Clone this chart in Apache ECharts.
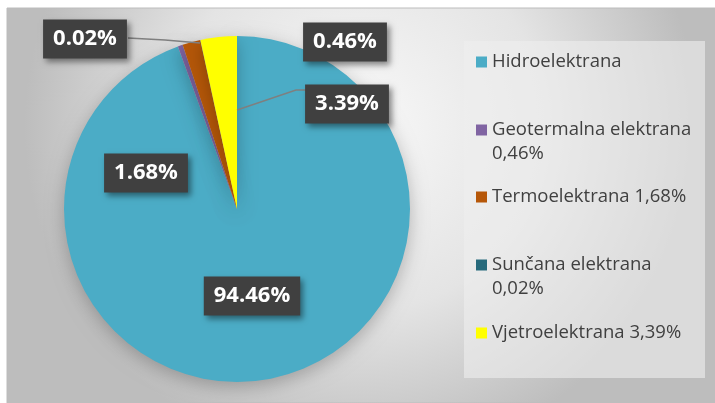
<!DOCTYPE html>
<html>
<head>
<meta charset="utf-8">
<script src="https://cdn.jsdelivr.net/npm/echarts@6/dist/echarts.min.js"></script>
<style>
html,body{margin:0;padding:0;background:#fff;}
#chart{width:715px;height:403px;}
</style>
</head>
<body>
<div id="chart"></div>
<script>
// ---- data ----
var categories = [
  'Hidroelektrana',
  'Geotermalna elektrana 0,46%',
  'Termoelektrana 1,68%',
  'Sunčana elektrana 0,02%',
  'Vjetroelektrana 3,39%'
];
var shares = [94.46, 0.46, 1.68, 0.02, 3.39];

// ---- style ----
var colors = ['#4BACC6', '#8064A2', '#B65708', '#276A7C', '#FFFF00'];
var FONT = '"Open Sans", "Noto Sans", sans-serif';
// manual label placement (as in the original chart): [centerX, centerY]
var labelPos = [[252, 296], [345, 42], [146, 173], [85, 39], [347, 104]];
// leader lines (null = none)
var leaders = [null, null, null, [[200, 43], [165, 40], [128, 38]], [[237, 110], [296, 90], [307, 90]]];
var legendCenters = [62, 130, 197, 265, 333];

var chart = echarts.init(document.getElementById('chart'));

function wrapLegend(name) {
  // wrap long names; a leading empty line keeps the marker on the first text line
  return name.length > 22 ? '\n' + name.replace(/ (\S+)$/, '\n$1') : name;
}

var legends = categories.map(function (name, i) {
  var twoLines = name.length > 22;
  return {
    data: [name],
    orient: 'vertical',
    left: 476,
    top: legendCenters[i] - (twoLines ? 36 : 12),
    padding: 0,
    icon: 'rect',
    itemWidth: 11,
    itemHeight: 11,
    selectedMode: false,
    formatter: wrapLegend,
    textStyle: {
      fontFamily: FONT,
      fontSize: 18.5,
      color: '#404040',
      lineHeight: 24
    }
  };
});

var pieData = categories.map(function (n, i) { return { name: n, value: shares[i] }; });

var option = {
  animation: false,
  color: colors,
  graphic: [
    {
      type: 'rect', z: -10, silent: true,
      shape: { x: 7, y: 8, width: 708, height: 395 },
      style: {
        fill: new echarts.graphic.RadialGradient(0.5, 0.3, 0.85, [
          { offset: 0, color: '#f8f8f8' },
          { offset: 0.55, color: '#e4e4e4' },
          { offset: 1, color: '#bdbdbd' }
        ]),
        stroke: '#bcbcbc', lineWidth: 1
      }
    },
    {
      type: 'rect', z: -9, silent: true,
      shape: { x: 464, y: 41, width: 241, height: 337 },
      style: { fill: 'rgba(238,238,238,0.6)' }
    }
  ],
  legend: legends,
  series: [{
    type: 'pie',
    center: [237, 209],
    radius: 173,
    startAngle: 90,
    clockwise: true,
    data: pieData,
    itemStyle: {
      shadowBlur: 18,
      shadowColor: 'rgba(0,0,0,0.25)',
      shadowOffsetY: 5
    },
    emphasis: { disabled: true },
    label: { show: false },
    labelLine: { show: false }
  }, {
    // label layer (drawn above the sectors so leader lines stay visible)
    type: 'pie',
    z: 5,
    silent: true,
    center: [237, 209],
    radius: 173,
    startAngle: 90,
    clockwise: true,
    avoidLabelOverlap: false,
    data: pieData,
    itemStyle: { color: 'rgba(0,0,0,0)', borderWidth: 0 },
    emphasis: { disabled: true },
    label: {
      show: true,
      position: 'outside',
      formatter: function (p) { return p.value.toFixed(2) + '%'; },
      fontFamily: FONT,
      fontWeight: 'bold',
      fontSize: 22,
      color: '#ffffff',
      backgroundColor: '#404040',
      padding: [9, 10, 8, 10],
      shadowBlur: 6,
      shadowOffsetX: 3,
      shadowOffsetY: 3,
      shadowColor: 'rgba(0,0,0,0.45)'
    },
    labelLine: {
      show: true,
      smooth: false,
      minTurnAngle: 0,
      maxSurfaceAngle: 180,
      lineStyle: { color: '#7f7f7f', width: 1.5 }
    },
    labelLayout: function (params) {
      var i = params.dataIndex;
      var pos = labelPos[i];
      var pts = leaders[i] || [pos, pos, pos];
      return {
        x: pos[0],
        y: pos[1],
        align: 'center',
        verticalAlign: 'middle',
        hideOverlap: false,
        labelLinePoints: pts
      };
    }
  }]
};
chart.setOption(option);
</script>
</body>
</html>
